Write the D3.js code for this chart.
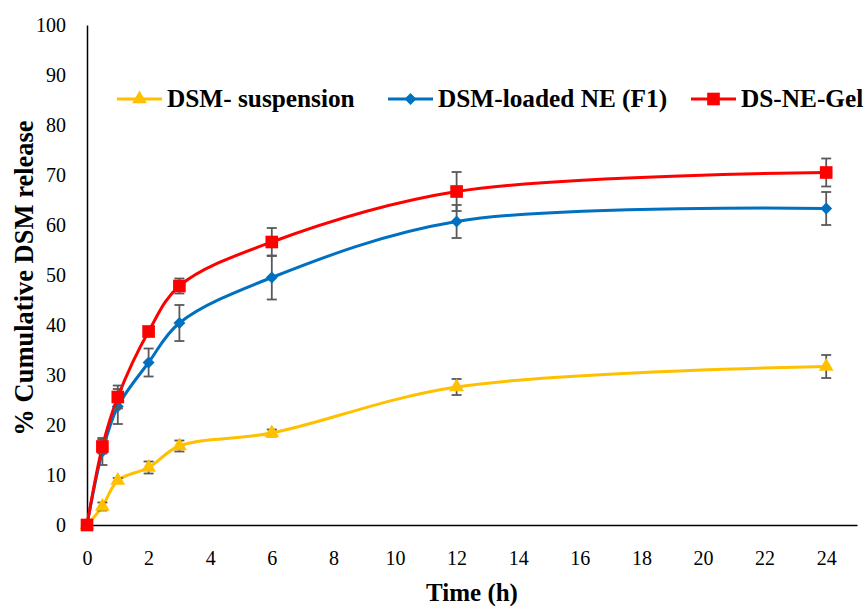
<!DOCTYPE html>
<html>
<head>
<meta charset="utf-8">
<script src="https://cdn.jsdelivr.net/npm/d3@7"></script>
<style>
  html, body { margin: 0; padding: 0; background: #fff; }
  svg { display: block; }
  text { font-family: "Liberation Serif", serif; fill: #000; }
</style>
</head>
<body>
<svg id="chart" width="866" height="606"></svg>
<script>
// ---- data ----
const timePoints = [0, 0.5, 1, 2, 3, 6, 12, 24];
const seriesNames = ["DSM- suspension", "DSM-loaded NE (F1)", "DS-NE-Gel"];
const suspensionValues = [0, 3.7, 8.9, 11.5, 15.8, 18.4, 27.6, 31.7];
const suspensionErrors = [0, 0.8, 0.5, 1.2, 1.1, 0.7, 1.6, 2.3];
const nanoemulsionValues = [0, 14.7, 23.7, 32.5, 40.4, 49.5, 60.7, 63.3];
const nanoemulsionErrors = [0, 2.7, 3.5, 2.8, 3.6, 4.4, 3.3, 3.3];
const gelValues = [0, 15.7, 25.6, 38.7, 47.8, 56.6, 66.7, 70.5];
const gelErrors = [0, 1.4, 2.3, 0, 1.5, 2.8, 3.9, 2.8];
const xTicks = [0, 2, 4, 6, 8, 10, 12, 14, 16, 18, 20, 22, 24];
const yTicks = [0, 10, 20, 30, 40, 50, 60, 70, 80, 90, 100];

(function () {
const FONT = "'Liberation Serif', serif";
const svg = d3.select("#chart");
const mLeft = 87, mTop = 25, plotW = 770, plotH = 500;
const x = d3.scaleLinear().domain([0, 25]).range([mLeft, mLeft + plotW]);
const y = d3.scaleLinear().domain([0, 100]).range([mTop + plotH, mTop]);

const colors = ["#FFC000", "#0070C0", "#FF0000"];
const symbols = [d3.symbolTriangle, d3.symbolDiamond2, d3.symbolSquare];
const symSizes = [95, 90, 160];

const series = [
  { name: seriesNames[0], values: suspensionValues, errors: suspensionErrors },
  { name: seriesNames[1], values: nanoemulsionValues, errors: nanoemulsionErrors },
  { name: seriesNames[2], values: gelValues, errors: gelErrors }
];

// axes
const xAxis = d3.axisBottom(x).tickValues(xTicks).tickSize(0).tickPadding(26);
const gx = svg.append("g").attr("transform", `translate(0,${y(0)})`).call(xAxis);
gx.attr("font-family", FONT);
gx.select(".domain").attr("stroke", "#000").attr("stroke-width", 1.5);
gx.selectAll("text").attr("font-size", 20).style("font-family", FONT);

const yAxis = d3.axisLeft(y).tickValues(yTicks).tickSize(0).tickPadding(21);
const gy = svg.append("g").attr("transform", `translate(${x(0)},0)`).call(yAxis);
gy.attr("font-family", FONT);
gy.select(".domain").attr("stroke", "#000").attr("stroke-width", 1.5);
gy.selectAll("text").attr("font-size", 20).style("font-family", FONT);

// axis titles
svg.append("text")
  .attr("x", x(12.5)).attr("y", 601)
  .attr("text-anchor", "middle")
  .attr("font-size", 25).attr("font-weight", "bold")
  .text("Time (h)");
svg.append("text")
  .attr("transform", `translate(33,278) rotate(-90)`)
  .attr("text-anchor", "middle")
  .attr("font-size", 26.5).attr("font-weight", "bold")
  .text("% Cumulative DSM release");

// series
const line = d3.line()
  .x((d, i) => x(timePoints[i]))
  .y(d => y(d))
  .curve(d3.curveCatmullRom.alpha(0.5));

series.forEach((s, si) => {
  const g = svg.append("g");
  g.append("path")
    .attr("d", line(s.values))
    .attr("fill", "none")
    .attr("stroke", colors[si])
    .attr("stroke-width", 3);
  const eb = g.append("g").attr("stroke", "#595959").attr("stroke-width", 1.8);
  s.values.forEach((v, i) => {
    const e = s.errors[i];
    if (!e) return;
    const cx = x(timePoints[i]);
    eb.append("line").attr("x1", cx).attr("x2", cx).attr("y1", y(v - e)).attr("y2", y(v + e));
    eb.append("line").attr("x1", cx - 5).attr("x2", cx + 5).attr("y1", y(v - e)).attr("y2", y(v - e));
    eb.append("line").attr("x1", cx - 5).attr("x2", cx + 5).attr("y1", y(v + e)).attr("y2", y(v + e));
  });
  g.selectAll(".m").data(s.values).enter().append("path")
    .attr("d", d3.symbol().type(symbols[si]).size(symSizes[si]))
    .attr("transform", (d, i) => `translate(${x(timePoints[i])},${y(d)})`)
    .attr("fill", colors[si]);
});

// legend
const legendX = [117, 388, 691];
const legendY = 99;
series.forEach((s, si) => {
  const lg = svg.append("g").attr("transform", `translate(${legendX[si]},${legendY})`);
  lg.append("line").attr("x1", 0).attr("x2", 45).attr("y1", 0).attr("y2", 0)
    .attr("stroke", colors[si]).attr("stroke-width", 3);
  lg.append("path").attr("d", d3.symbol().type(symbols[si]).size(symSizes[si])())
    .attr("transform", "translate(22.5,0)").attr("fill", colors[si]);
  lg.append("text").attr("x", 50).attr("y", 7.5)
    .attr("font-size", 25.3).attr("font-weight", "bold")
    .text(s.name);
});
})();
</script>
</body>
</html>
